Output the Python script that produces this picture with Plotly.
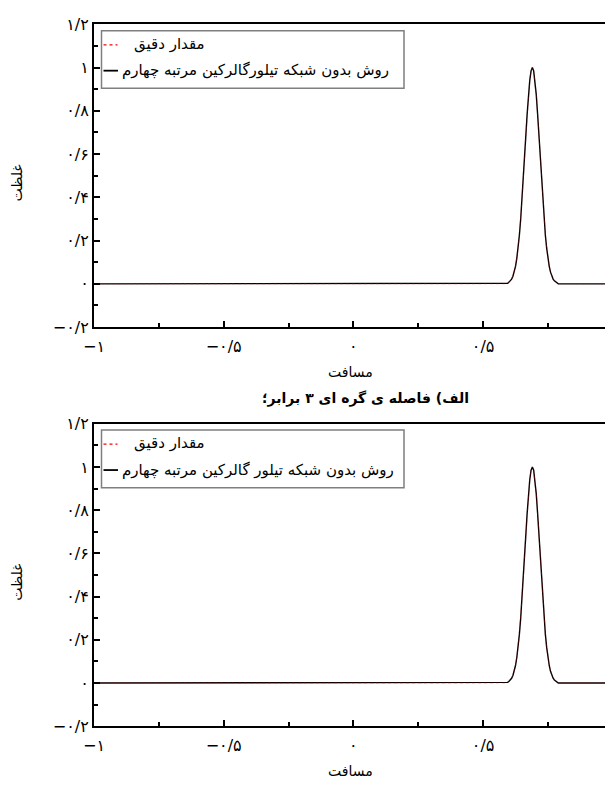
import plotly.graph_objects as go

# ---------------- data ----------------
x_vals = [-1.0, 0.0, 0.55, 0.59, 0.595, 0.60, 0.605, 0.61, 0.615, 0.62, 0.625, 0.63, 0.635,
          0.64, 0.645, 0.65, 0.655, 0.66, 0.665, 0.67, 0.675, 0.68, 0.685,
          0.69, 0.695, 0.70, 0.705, 0.71, 0.715, 0.72, 0.725, 0.73, 0.735,
          0.74, 0.745, 0.75, 0.755, 0.76, 0.765, 0.77, 0.775, 0.78, 0.785, 0.79, 0.83, 0.97]

exact_top = [0.0, 0.0, 0.0, 0.0, 0.004, 0.008, 0.014, 0.022, 0.035, 0.054, 0.081, 0.118, 0.166,
             0.226, 0.300, 0.386, 0.483, 0.586, 0.690, 0.788, 0.875, 0.942, 0.985,
             1.0, 0.985, 0.942, 0.875, 0.788, 0.690, 0.586, 0.483, 0.386, 0.300,
             0.226, 0.166, 0.118, 0.081, 0.054, 0.035, 0.022, 0.014, 0.008, 0.004, 0.0, 0.0, 0.0]
num_top = [0.0, 0.0, 0.0, 0.0, 0.003, 0.008, 0.014, 0.022, 0.035, 0.054, 0.081, 0.118, 0.166,
           0.226, 0.300, 0.386, 0.483, 0.586, 0.690, 0.788, 0.875, 0.942, 0.985,
           1.0, 0.985, 0.942, 0.875, 0.788, 0.690, 0.586, 0.483, 0.386, 0.300,
           0.226, 0.166, 0.118, 0.081, 0.054, 0.035, 0.022, 0.014, 0.008, 0.003, 0.0, 0.0, 0.0]
exact_bot = list(exact_top)
num_bot = list(num_top)

x_tickvals = [-1, -0.5, 0, 0.5]
x_ticktext = ["−۱", "−۰/۵", "۰", "۰/۵"]
x_minor = [-0.75, -0.25, 0.25, 0.75]
y_tickvals = [-0.2, 0, 0.2, 0.4, 0.6, 0.8, 1.0, 1.2]
y_ticktext = ["−۰/۲", "۰", "۰/۲", "۰/۴", "۰/۶", "۰/۸", "۱", "۱/۲"]
y_minor = [-0.1, 0.1, 0.3, 0.5, 0.7, 0.9, 1.1]

name_exact = "مقدار دقیق"
name_num_top = "روش بدون شبکه تیلورگالرکین مرتبه چهارم"
name_num_bot = "روش بدون شبکه تیلور گالرکین مرتبه چهارم"
x_title = "مسافت"
y_title = "غلظت"
caption = "الف) فاصله ی گره ای ۳ برابر؛\u200f"

# ---------------- layout geometry ----------------
W, H = 605, 785
L = 94
PW = W - L
FONT = "DejaVu Sans"

def px(xp):
    return (xp - L) / PW

def py(yp):
    return 1 - yp / H

top_px = (15.7, 326.0)
bot_px = (425.0, 735.0)

fig = go.Figure()

for i, (ex, nm, nname) in enumerate([(exact_top, num_top, name_num_top),
                                     (exact_bot, num_bot, name_num_bot)]):
    xa = "x" if i == 0 else "x2"
    ya = "y" if i == 0 else "y2"
    fig.add_trace(go.Scatter(x=x_vals, y=nm, mode="lines", xaxis=xa, yaxis=ya,
                             line=dict(color="black", width=1.4),
                             name=nname, showlegend=False))
    fig.add_trace(go.Scatter(x=x_vals, y=ex, mode="lines", xaxis=xa, yaxis=ya,
                             line=dict(color="red", width=0.8, dash="dot"),
                             opacity=0.35, name=name_exact, showlegend=False))

axis_common_x = dict(range=[-1, 0.970], tickmode="array", tickvals=x_tickvals, ticktext=x_ticktext,
                     ticks="inside", ticklen=6, tickwidth=1.5, tickcolor="black",
                     minor=dict(tickmode="array", tickvals=x_minor, ticks="inside", ticklen=4,
                                tickwidth=1.5, tickcolor="black"),
                     showline=True, linewidth=2, linecolor="black", mirror=True,
                     showgrid=False, zeroline=False, ticklabelstandoff=4,
                     tickfont=dict(family=FONT, size=16, color="black"))
axis_common_y = dict(range=[-0.2, 1.2], tickmode="array", tickvals=y_tickvals, ticktext=y_ticktext,
                     ticks="inside", ticklen=6, tickwidth=1.5, tickcolor="black",
                     minor=dict(tickmode="array", tickvals=y_minor, ticks="inside", ticklen=4,
                                tickwidth=1.5, tickcolor="black"),
                     showline=True, linewidth=2, linecolor="black", mirror=False,
                     showgrid=False, zeroline=False,
                     tickfont=dict(family=FONT, size=16, color="black"))

fig.update_layout(
    width=W, height=H,
    margin=dict(l=L, r=0, t=0, b=0),
    paper_bgcolor="white", plot_bgcolor="white",
    showlegend=False,
    xaxis=dict(domain=[0, 1], anchor="y", **axis_common_x),
    yaxis=dict(domain=[py(top_px[1]), py(top_px[0])], anchor="x", **axis_common_y),
    xaxis2=dict(domain=[0, 1], anchor="y2", **axis_common_x),
    yaxis2=dict(domain=[py(bot_px[1]), py(bot_px[0])], anchor="x2", **axis_common_y),
)

shapes = []
annotations = []
for pp, nname in [(top_px, name_num_top), (bot_px, name_num_bot)]:
    t0 = pp[0]
    # legend box
    shapes.append(dict(type="rect", xref="paper", yref="paper",
                       x0=px(101.5), x1=px(404), y0=py(t0 + 6.5), y1=py(t0 + 65.5),
                       line=dict(color="#7f7f7f", width=1.5), fillcolor="white", layer="above"))
    shapes.append(dict(type="line", xref="paper", yref="paper",
                       x0=px(103.5), x1=px(117.5), y0=py(t0 + 21), y1=py(t0 + 21),
                       line=dict(color="red", width=1.3, dash="dot"), layer="above"))
    shapes.append(dict(type="line", xref="paper", yref="paper",
                       x0=px(103.5), x1=px(118), y0=py(t0 + 47.5), y1=py(t0 + 47.5),
                       line=dict(color="black", width=1.8), layer="above"))
    annotations.append(dict(xref="paper", yref="paper", x=px(132), y=py(t0 + 20),
                            xanchor="left", yanchor="middle", showarrow=False,
                            text=name_exact, font=dict(family=FONT, size=15, color="black")))
    annotations.append(dict(xref="paper", yref="paper", x=px(120), y=py(t0 + 47),
                            xanchor="left", yanchor="middle", showarrow=False,
                            text=nname, font=dict(family=FONT, size=15, color="black")))
    # axis titles
    annotations.append(dict(xref="paper", yref="paper", x=px(350), y=py(pp[1] + 46),
                            xanchor="center", yanchor="middle", showarrow=False,
                            text=x_title, font=dict(family=FONT, size=14, color="black")))
    annotations.append(dict(xref="paper", yref="paper", x=px(17), y=py((pp[0] + pp[1]) / 2 + 8),
                            xanchor="center", yanchor="middle", showarrow=False, textangle=-90,
                            text=y_title, font=dict(family=FONT, size=14, color="black")))

annotations.append(dict(xref="paper", yref="paper", x=px(365), y=py(399),
                        xanchor="center", yanchor="middle", showarrow=False,
                        text="<b>" + caption + "</b>", font=dict(family=FONT, size=14, color="black")))

fig.update_layout(shapes=shapes, annotations=annotations)
fig.write_html("out.html")
